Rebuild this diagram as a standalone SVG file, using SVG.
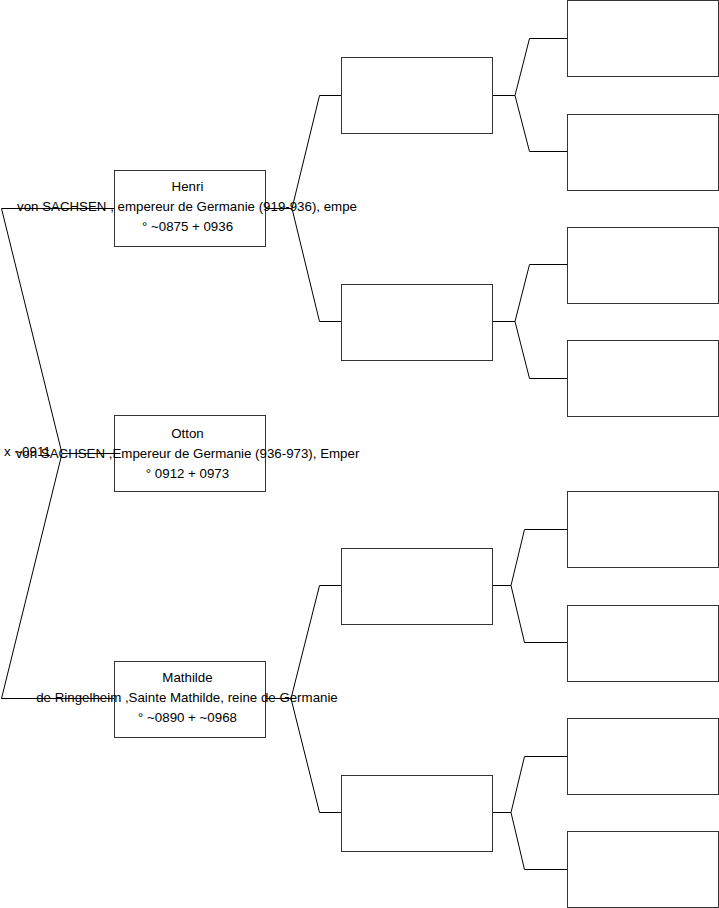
<svg xmlns="http://www.w3.org/2000/svg" width="719" height="908" viewBox="0 0 719 908">
<style>
.box{fill:#fff;stroke:#333;stroke-width:1}
.ln{fill:none;stroke:#000;stroke-width:1}
text{font-family:"Liberation Sans",Arial,sans-serif;font-size:13.3px;fill:#000}
.c{text-anchor:middle}
</style>
<rect width="719" height="908" fill="#fff"/>
<g id="connectors">
<polyline class="ln" points="114,208.5 1.5,208.5 62,453.5 1.5,698.5 114,698.5"/>
<polyline class="ln" points="62,453.5 114,453.5"/>
<polyline class="ln" points="265,208.5 292,208.5"/>
<polyline class="ln" points="341,95.5 319.5,95.5 292,208.5 319.5,321.5 341,321.5"/>
<polyline class="ln" points="265,698.5 291,698.5"/>
<polyline class="ln" points="341,585.5 319.5,585.5 291,698.5 319.5,812.5 341,812.5"/>
<polyline class="ln" points="492,95.5 515,95.5"/>
<polyline class="ln" points="567,38.5 529.5,38.5 515,95.5 529.5,151.5 567,151.5"/>
<polyline class="ln" points="492,321.5 515,321.5"/>
<polyline class="ln" points="567,264.5 529.5,264.5 515,321.5 529.5,378.5 567,378.5"/>
<polyline class="ln" points="492,585.5 511,585.5"/>
<polyline class="ln" points="567,529.5 524.5,529.5 511,585.5 524.5,642.5 567,642.5"/>
<polyline class="ln" points="492,812.5 511,812.5"/>
<polyline class="ln" points="567,756.5 524.5,756.5 511,812.5 524.5,869.5 567,869.5"/>
</g>
<g id="henri">
<rect class="box" x="114.5" y="170.5" width="151" height="76"/>
<text class="c" x="187.5" y="191">Henri</text>
<text class="c" x="187" y="211">von SACHSEN , empereur de Germanie (919-936), empe</text>
<text class="c" x="187.5" y="231">° ~0875 + 0936</text>
</g>
<g id="otton">
<rect class="box" x="114.5" y="415.5" width="151" height="76"/>
<text class="c" x="187.5" y="438">Otton</text>
<text class="c" x="187.5" y="458">von SACHSEN ,Empereur de Germanie (936-973), Emper</text>
<text class="c" x="187.5" y="478">° 0912 + 0973</text>
</g>
<g id="marriage">
<text x="4" y="456">x ~0911</text>
</g>
<g id="mathilde">
<rect class="box" x="114.5" y="661.5" width="151" height="76"/>
<text class="c" x="187.5" y="682">Mathilde</text>
<text class="c" x="187" y="702">de Ringelheim ,Sainte Mathilde, reine de Germanie</text>
<text class="c" x="187.5" y="722">° ~0890 + ~0968</text>
</g>
<g id="p1"><rect class="box" x="341.5" y="57.5" width="151" height="76"/></g>
<g id="p2"><rect class="box" x="341.5" y="284.5" width="151" height="76"/></g>
<g id="p3"><rect class="box" x="341.5" y="548.5" width="151" height="76"/></g>
<g id="p4"><rect class="box" x="341.5" y="775.5" width="151" height="76"/></g>
<g id="g1"><rect class="box" x="567.5" y="0.5" width="151" height="76"/></g>
<g id="g2"><rect class="box" x="567.5" y="114.5" width="151" height="76"/></g>
<g id="g3"><rect class="box" x="567.5" y="227.5" width="151" height="76"/></g>
<g id="g4"><rect class="box" x="567.5" y="340.5" width="151" height="76"/></g>
<g id="g5"><rect class="box" x="567.5" y="491.5" width="151" height="76"/></g>
<g id="g6"><rect class="box" x="567.5" y="605.5" width="151" height="76"/></g>
<g id="g7"><rect class="box" x="567.5" y="718.5" width="151" height="76"/></g>
<g id="g8"><rect class="box" x="567.5" y="831.5" width="151" height="76"/></g>
</svg>
